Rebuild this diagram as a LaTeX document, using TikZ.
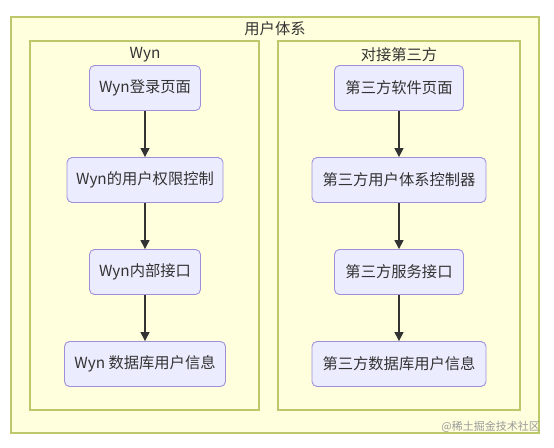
\documentclass[tikz,border=0pt]{standalone}
\usepackage{fontspec}
\setmainfont{Noto Sans CJK SC}
\usetikzlibrary{arrows.meta}
\definecolor{clfill}{HTML}{FFFFDE}
\definecolor{clline}{HTML}{BDC86A}
\definecolor{ndfill}{HTML}{ECECFF}
\definecolor{ndline}{HTML}{9F8FDB}
\definecolor{txt}{HTML}{333333}
\begin{document}
\begin{tikzpicture}[x=1pt,y=-1pt,
  cluster/.style={draw=clline,fill=clfill,line width=1.1pt},
  cltitle/.style={text=txt,font=\fontsize{15.3}{17}\selectfont,inner sep=0pt},
  flownode/.style={draw=ndline,fill=ndfill,rounded corners=5pt,line width=0.9pt,text=txt,font=\fontsize{15.3}{17}\selectfont,minimum height=45pt,inner sep=0pt},
  flow/.style={draw=txt,line width=1.5pt,-{Triangle[length=9pt,width=9pt]}}]
\useasboundingbox[fill=white] (0,0) rectangle (554,447);
\draw[cluster] (11,17) rectangle (539,433);
\draw[cluster] (30,41) rectangle (259,410);
\draw[cluster] (278,41) rectangle (520,410);
\node[cltitle] (tmain) at (275,29) {用户体系};
\node[cltitle] (tleft) at (145,55) {Wyn};
\node[cltitle] (tright) at (399,55) {对接第三方};
\node[flownode,minimum width=111pt] (a1) at (145,88) {Wyn登录页面};
\node[flownode,minimum width=156pt] (a2) at (145,180) {Wyn的用户权限控制};
\node[flownode,minimum width=111pt] (a3) at (145,272) {Wyn内部接口};
\node[flownode,minimum width=161pt] (a4) at (145,364) {Wyn 数据库用户信息};
\node[flownode,minimum width=129pt] (b1) at (399,88) {第三方软件页面};
\node[flownode,minimum width=174pt] (b2) at (399,180) {第三方用户体系控制器};
\node[flownode,minimum width=129pt] (b3) at (399,272) {第三方服务接口};
\node[flownode,minimum width=174pt] (b4) at (399,364) {第三方数据库用户信息};
\draw[flow] (a1) -- (a2);
\draw[flow] (a2) -- (a3);
\draw[flow] (a3) -- (a4);
\draw[flow] (b1) -- (b2);
\draw[flow] (b2) -- (b3);
\draw[flow] (b3) -- (b4);
\node[anchor=east,text=black!40,font=\fontsize{11}{12}\selectfont,inner sep=0pt] (wm) at (540,427) {@稀土掘金技术社区};
\end{tikzpicture}
\end{document}
